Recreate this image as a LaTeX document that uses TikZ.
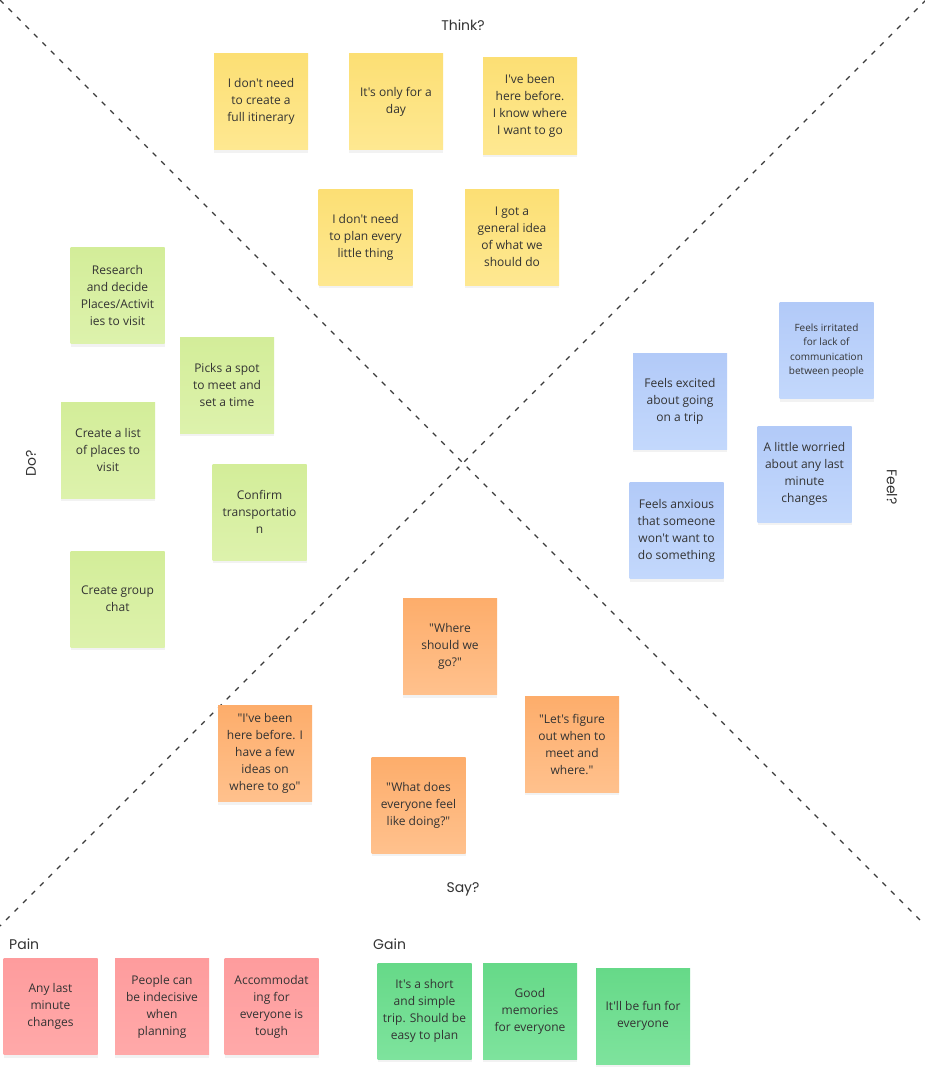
\documentclass[tikz,border=0pt]{standalone}
\usepackage{fontspec}
\setmainfont{Open Sans}[Ligatures=TeXOff]
\newfontfamily\labelfont{Poppins}
\usetikzlibrary{shadows}
\definecolor{ytop}{HTML}{FCDF74}\definecolor{ybot}{HTML}{FEE891}
\definecolor{gtop}{HTML}{D3ED99}\definecolor{gbot}{HTML}{DDF2AC}
\definecolor{btop}{HTML}{B2CAF8}\definecolor{bbot}{HTML}{C3D8FC}
\definecolor{otop}{HTML}{FDAD6B}\definecolor{obot}{HTML}{FFC18D}
\definecolor{ptop}{HTML}{FE9C9D}\definecolor{pbot}{HTML}{FFA9A9}
\definecolor{ntop}{HTML}{66D988}\definecolor{nbot}{HTML}{7EE39D}
\definecolor{ink}{HTML}{333333}
\definecolor{lineclr}{HTML}{3A3A3A}
\tikzset{
  sticky/.style={minimum width=94pt, minimum height=96pt, inner sep=0pt,
    align=center, text=ink, font=\fontsize{12}{17}\selectfont,
    drop shadow={opacity=0.10, shadow xshift=0pt, shadow yshift=-3pt}},
  yel/.style={sticky, top color=ytop, bottom color=ybot},
  grn/.style={sticky, top color=gtop, bottom color=gbot},
  blu/.style={sticky, top color=btop, bottom color=bbot},
  org/.style={sticky, top color=otop, bottom color=obot},
  pnk/.style={sticky, top color=ptop, bottom color=pbot},
  gan/.style={sticky, top color=ntop, bottom color=nbot},
  qlabel/.style={text=ink, font=\labelfont\fontsize{14}{16}\selectfont, inner sep=0pt},
  divider/.style={draw=lineclr, line width=1.2pt, dash pattern=on 5pt off 7pt}
}
\begin{document}
\begin{tikzpicture}[x=1pt,y=-1pt]
\fill[white] (0,0) rectangle (924,1081);
\useasboundingbox (0,0) rectangle (924,1081);
% dividers
\coordinate (tl) at (0,0);
\coordinate (br) at (924,924);
\coordinate (tr) at (926,0);
\coordinate (bl) at (0,926);
\draw[divider] (tl) -- (br);
\draw[divider] (tr) -- (bl);
% labels
\node[qlabel] (think) at (463,25) {Think?};
\node[qlabel, rotate=90] (do) at (31,463) {Do?};
\node[qlabel, rotate=-90] (feel) at (892,487) {Feel?};
\node[qlabel] (say) at (463,889) {Say?};
\node[qlabel, anchor=west] (pain) at (9,944) {Pain};
\node[qlabel, anchor=west] (gain) at (373,944) {Gain};
% think
\node[yel] (y1) at (261,101.5) {I don't need\\to create a\\full itinerary};
\node[yel] (y2) at (396,101.5) {It's only for a\\day};
\node[yel] (y3) at (530,106) {I've been\\here before.\\I know where\\I want to go};
\node[yel] (y4) at (365.5,237) {I don't need\\to plan every\\little thing};
\node[yel] (y5) at (512,237) {I got a\\general idea\\of what we\\should do};
% do
\node[grn] (g1) at (117.5,295.5) {Research\\and decide\\Places/Activit\\ies to visit};
\node[grn] (g2) at (227,385) {Picks a spot\\to meet and\\set a time};
\node[grn] (g3) at (108,450) {Create a list\\of places to\\visit};
\node[grn] (g4) at (259.5,512) {Confirm\\transportatio\\n};
\node[grn] (g5) at (117.5,599) {Create group\\chat};
% feel
\node[blu, font=\fontsize{10}{14.3}\selectfont] (b1) at (826.5,350.5) {Feels irritated\\for lack of\\communication\\between people};
\node[blu] (b2) at (680,401) {Feels excited\\about going\\on a trip};
\node[blu] (b3) at (804.5,474) {A little worried\\about any last\\minute\\changes};
\node[blu] (b4) at (676.5,530.5) {Feels anxious\\that someone\\won't want to\\do something};
% say
\node[org] (o1) at (450,646.5) {"Where\\should we\\go?"};
\node[org] (o2) at (572,744) {"Let's figure\\out when to\\meet and\\where."};
\node[org] (o3) at (265,753.5) {"I've been\\here before. I\\have a few\\ideas on\\where to go"};
\node[org] (o4) at (418.5,805) {"What does\\everyone feel\\like doing?"};
% pain
\node[pnk] (p1) at (50.5,1006.5) {Any last\\minute\\changes};
\node[pnk] (p2) at (162,1006.5) {People can\\be indecisive\\when\\planning};
\node[pnk] (p3) at (271.5,1006.5) {Accommodat\\ing for\\everyone is\\tough};
% gain
\node[gan] (n1) at (424.5,1011) {It's a short\\and simple\\trip. Should be\\easy to plan};
\node[gan] (n2) at (530,1011) {Good\\memories\\for everyone};
\node[gan] (n3) at (643,1016) {It'll be fun for\\everyone};
\end{tikzpicture}
\end{document}
